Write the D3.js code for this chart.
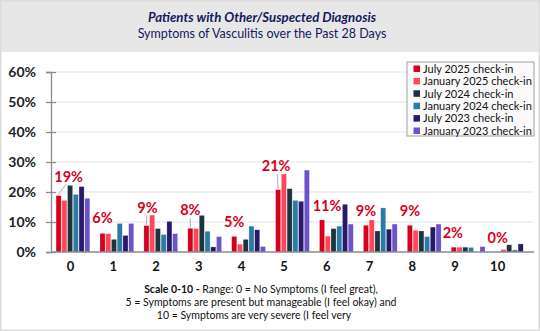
<!DOCTYPE html>
<html><head><meta charset="utf-8">
<script src="https://cdn.jsdelivr.net/npm/d3@7"></script>
<style>
html,body{margin:0;padding:0;background:#fff;}
svg{display:block;font-family:Lato,"Open Sans",sans-serif;}
</style></head>
<body><svg id="c" width="540" height="331"></svg>
<script>
const categories = ["0","1","2","3","4","5","6","7","8","9","10"];
const seriesNames = ["July 2025 check-in","January 2025 check-in","July 2024 check-in","January 2024 check-in","July 2023 check-in","January 2023 check-in"];
const july2025 = [18.8, 6.2, 8.8, 7.9, 5.2, 20.8, 10.7, 8.9, 8.9, 1.6, 0];
const jan2025  = [17.2, 6.1, 12.3, 7.8, 2.6, 26.0, 5.3, 10.7, 7.2, 1.6, 0.8];
const july2024 = [22.2, 4.2, 7.8, 12.2, 4.2, 21.1, 7.8, 7.0, 7.0, 1.6, 2.4];
const jan2024  = [19.2, 9.5, 5.8, 6.9, 8.6, 17.2, 8.6, 14.7, 5.1, 1.5, 0.7];
const july2023 = [21.8, 5.5, 10.2, 1.7, 7.4, 16.9, 15.9, 7.6, 8.3, 0, 2.7];
const jan2023  = [17.9, 9.5, 6.1, 5.1, 1.8, 27.3, 9.3, 9.3, 9.3, 1.8, 0];
const yTicks = [0, 10, 20, 30, 40, 50, 60];
const titleText = "Patients with Other/Suspected Diagnosis";
const subtitleText = "Symptoms of Vasculitis over the Past 28 Days";

// layout-only (not data): label nudges [dx, extra lift]
const labelNudge = [[10,5],[0,1],[1,4],[0,4],[0,0],[-2,10],[5,0],[0,0],[0,0],[-1,0],[0,0]];

const series = [july2025, jan2025, july2024, jan2024, july2023, jan2023];
const colors = ["#d6001c","#ff4757","#1c3340","#2b7ba3","#271a6a","#6c53c9"];

const svg = d3.select("#c");
const W = 540, H = 331;
svg.append("rect").attr("x",0).attr("y",0).attr("width",W).attr("height",H).attr("fill","#fff");
svg.append("rect").attr("x",0).attr("y",0).attr("width",W).attr("height",52).attr("fill","#e7e7e7");
svg.append("rect").attr("x",0.75).attr("y",0.75).attr("width",W-1.5).attr("height",H-1.5)
  .attr("fill","none").attr("stroke","#dcdcdc").attr("stroke-width",1.5);

svg.append("text").attr("x",262).attr("y",22).attr("text-anchor","middle")
  .attr("font-weight","bold").attr("font-style","italic").attr("font-size",13.2)
  .attr("fill","#141a5c").text(titleText);
svg.append("text").attr("x",262).attr("y",38).attr("text-anchor","middle")
  .attr("font-size",12.5).attr("fill","#141a5c").text(subtitleText);

const y = d3.scaleLinear().domain([0,60]).range([252,72]);
const x = d3.scaleBand().domain(categories).range([51,534]).paddingInner(0.2).paddingOuter(0.1);
const xs = d3.scaleBand().domain(d3.range(6)).range([0, x.bandwidth()]).padding(0.12);
const xLab = d3.scaleBand().domain(categories).range([49.2,519]);

// gridlines
svg.append("g").selectAll("line").data(yTicks.filter(d=>d>0)).join("line")
  .attr("x1",56).attr("x2",534).attr("y1",d=>y(d)).attr("y2",d=>y(d))
  .attr("stroke","#e3e3e3").attr("stroke-width",1);

// y axis
const yAxis = svg.append("g").attr("transform","translate(51,0)")
  .call(d3.axisLeft(y).tickValues(yTicks).tickFormat(d=>d+"%").tickSize(5).tickPadding(10));
yAxis.select(".domain").attr("stroke","#8a8a8a").attr("stroke-width",1.3);
yAxis.selectAll(".tick line").attr("stroke","#8a8a8a").attr("stroke-width",1.3).attr("x2",5).attr("x1",-5);
yAxis.selectAll(".tick text").attr("font-size",14).attr("font-weight","bold").attr("fill","#222")
  .attr("font-family","Lato,sans-serif").attr("dy","0.35em");

// bars
const gBars = svg.append("g");
categories.forEach((c,i)=>{
  series.forEach((s,j)=>{
    gBars.append("rect")
      .attr("x", x(c)+xs(j)).attr("width", xs.bandwidth())
      .attr("y", y(s[i])).attr("height", y(0)-y(s[i]))
      .attr("fill", colors[j]).attr("stroke","rgba(255,255,255,0.35)").attr("stroke-width",0.6);
  });
});

// x axis baseline
svg.append("line").attr("x1",51).attr("x2",534).attr("y1",y(0)).attr("y2",y(0))
  .attr("stroke","#8a8a8a").attr("stroke-width",1.3);

// x labels
const xAxis = svg.append("g").attr("transform","translate(0,262)")
  .call(d3.axisBottom(xLab).tickSize(0).tickPadding(0));
xAxis.select(".domain").remove();
xAxis.selectAll(".tick text").attr("font-size",13).attr("font-weight","bold").attr("fill","#111")
  .attr("font-family","Lato,sans-serif").attr("dy","0.71em");

// data labels for July 2025
const gLab = svg.append("g");
categories.forEach((c,i)=>{
  const v = july2025[i];
  const bx = x(c)+xs(0)+xs.bandwidth()/2;
  const by = y(v);
  const [dx, lift] = labelNudge[i];
  const lx = bx+dx, ly = by-9-lift;
  if (lift>=4) {
    gLab.append("line").attr("x1",bx).attr("y1",by-1).attr("x2",dx>5? lx-3 : bx+dx/2).attr("y2",ly+3)
      .attr("stroke","#b0b0b0").attr("stroke-width",1);
  }
  gLab.append("text").attr("x",lx).attr("y",ly).attr("text-anchor","middle")
    .attr("font-size",14.5).attr("font-weight","bold").attr("fill","#d6001c")
    .text(Math.round(v)+"%");
});

// legend
const lg = svg.append("g");
lg.append("rect").attr("x",407).attr("y",62).attr("width",127).attr("height",74)
  .attr("fill","#fafafa").attr("stroke","#a0a0a0").attr("stroke-width",1);
seriesNames.forEach((n,j)=>{
  const yy = 69 + j*12.4;
  lg.append("rect").attr("x",413.5).attr("y",yy-3.5).attr("width",6.5).attr("height",6.5).attr("fill",colors[j]);
  lg.append("text").attr("x",423).attr("y",yy).attr("dy","0.35em").attr("font-size",11)
    .attr("fill","#111").text(n);
});

// footnote
const foot = svg.append("g").attr("font-size",10.5).attr("fill","#111").attr("text-anchor","middle");
const t1 = foot.append("text").attr("x",261).attr("y",293);
t1.append("tspan").attr("font-weight","bold").text("Scale 0-10 - ");
t1.append("tspan").text("Range: 0 = No Symptoms (I feel great),");
foot.append("text").attr("x",261).attr("y",306).text("5 = Symptoms are present but manageable (I feel okay) and");
foot.append("text").attr("x",254).attr("y",319).text("10 = Symptoms are very severe (I feel very");
</script></body></html>
